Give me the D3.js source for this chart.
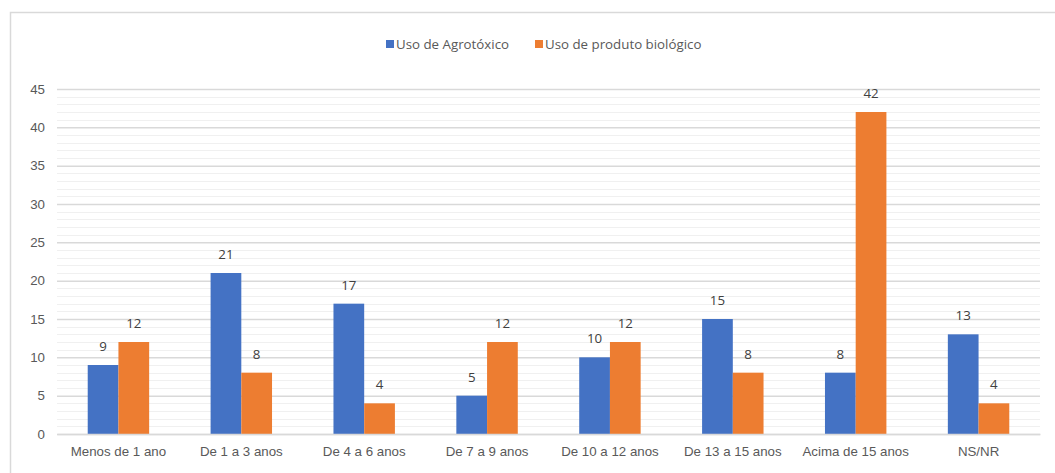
<!DOCTYPE html>
<html>
<head>
<meta charset="utf-8">
<script src="https://cdn.jsdelivr.net/npm/d3@7"></script>
<style>
  html, body { margin: 0; padding: 0; background: #fff; }
  svg { display: block; font-family: "Open Sans", "Noto Sans", sans-serif; }
</style>
</head>
<body>
<svg id="chart" width="1055" height="473"></svg>
<script>
// Time ranges (categories)
const categories = ["Menos de 1 ano", "De 1 a 3 anos", "De 4 a 6 anos", "De 7 a 9 anos",
                    "De 10 a 12 anos", "De 13 a 15 anos", "Acima de 15 anos", "NS/NR"];
const seriesNames = ["Uso de Agrotóxico", "Uso de produto biológico"];
const agrotoxico = [9, 21, 17, 5, 10, 15, 8, 13];
const biologico = [12, 8, 4, 12, 12, 8, 42, 4];
const yTicks = [0, 5, 10, 15, 20, 25, 30, 35, 40, 45];
const yMax = 45;

const colors = ["#4472C4", "#ED7D31"];
const series = [agrotoxico, biologico];
const fontSize = 13.3;

const svg = d3.select("#chart");
const W = 1055, H = 473;
const margin = { left: 57, right: 15, top: 89, bottom: 39 };
const plotW = W - margin.left - margin.right;
const plotH = H - margin.top - margin.bottom;

// Outer chart frame (left and top edges visible)
svg.append("rect")
  .attr("x", 10.5).attr("y", 12.5)
  .attr("width", W + 20).attr("height", H + 20)
  .attr("fill", "#fff").attr("stroke", "#d9d9d9").attr("stroke-width", 1.5);

const g = svg.append("g").attr("transform", `translate(${margin.left},${margin.top})`);

const y = d3.scaleLinear().domain([0, yMax]).range([plotH, 0]);
const x0 = d3.scaleBand().domain(categories).range([0, plotW]).padding(0);
const x1 = d3.scaleBand().domain(d3.range(series.length))
  .range([x0.bandwidth() * 0.25, x0.bandwidth() * 0.75]).padding(0);

// Minor gridlines
g.append("g").selectAll("line")
  .data(d3.range(0, yMax + 1).filter(v => v % 5 !== 0))
  .join("line")
  .attr("x1", 0).attr("x2", plotW)
  .attr("y1", d => Math.round(y(d)) + 0.5).attr("y2", d => Math.round(y(d)) + 0.5)
  .attr("stroke", "#f0f0f0").attr("stroke-width", 1);

// Major gridlines
const yAxis = d3.axisLeft(y).tickValues(yTicks).tickSize(-plotW).tickPadding(12);
const ya = g.append("g").call(yAxis);
ya.select(".domain").remove();
ya.selectAll(".tick line").attr("stroke", "#d9d9d9").attr("stroke-width", 1.5);
ya.selectAll(".tick text")
  .attr("fill", "#595959").attr("font-size", fontSize)
  .attr("x", -12);

// Bars
const groups = g.append("g").selectAll("g")
  .data(categories)
  .join("g")
  .attr("transform", d => `translate(${x0(d)},0)`);

groups.selectAll("rect")
  .data((c, i) => series.map((s, k) => ({ k, v: s[i] })))
  .join("rect")
  .attr("x", d => x1(d.k))
  .attr("width", x1.bandwidth())
  .attr("y", d => y(d.v))
  .attr("height", d => y(0) - y(d.v))
  .attr("fill", d => colors[d.k]);

// Value labels
groups.selectAll("text")
  .data((c, i) => series.map((s, k) => ({ k, v: s[i] })))
  .join("text")
  .attr("x", d => x1(d.k) + x1.bandwidth() / 2)
  .attr("y", d => y(d.v) - 14)
  .attr("text-anchor", "middle")
  .attr("fill", "#404040").attr("font-size", fontSize)
  .text(d => d.v);

// Category axis
const xAxis = d3.axisBottom(x0).tickSize(0).tickPadding(13);
const xa = g.append("g").attr("transform", `translate(0,${plotH})`).call(xAxis);
xa.select(".domain").attr("stroke", "#d9d9d9").attr("stroke-width", 1.5);
xa.selectAll(".tick text").attr("fill", "#595959").attr("font-size", fontSize);

// Legend
const legend = svg.append("g").attr("transform", "translate(386,44)");
const items = [{ x: 0 }, { x: 149 }];
seriesNames.forEach((name, k) => {
  const it = legend.append("g").attr("transform", `translate(${items[k].x},0)`);
  it.append("rect").attr("x", 0).attr("y", -4).attr("width", 8).attr("height", 8).attr("fill", colors[k]);
  it.append("text").attr("x", 10).attr("y", 0).attr("dy", "0.35em")
    .attr("fill", "#595959").attr("font-size", fontSize).text(name);
});
</script>
</body>
</html>
